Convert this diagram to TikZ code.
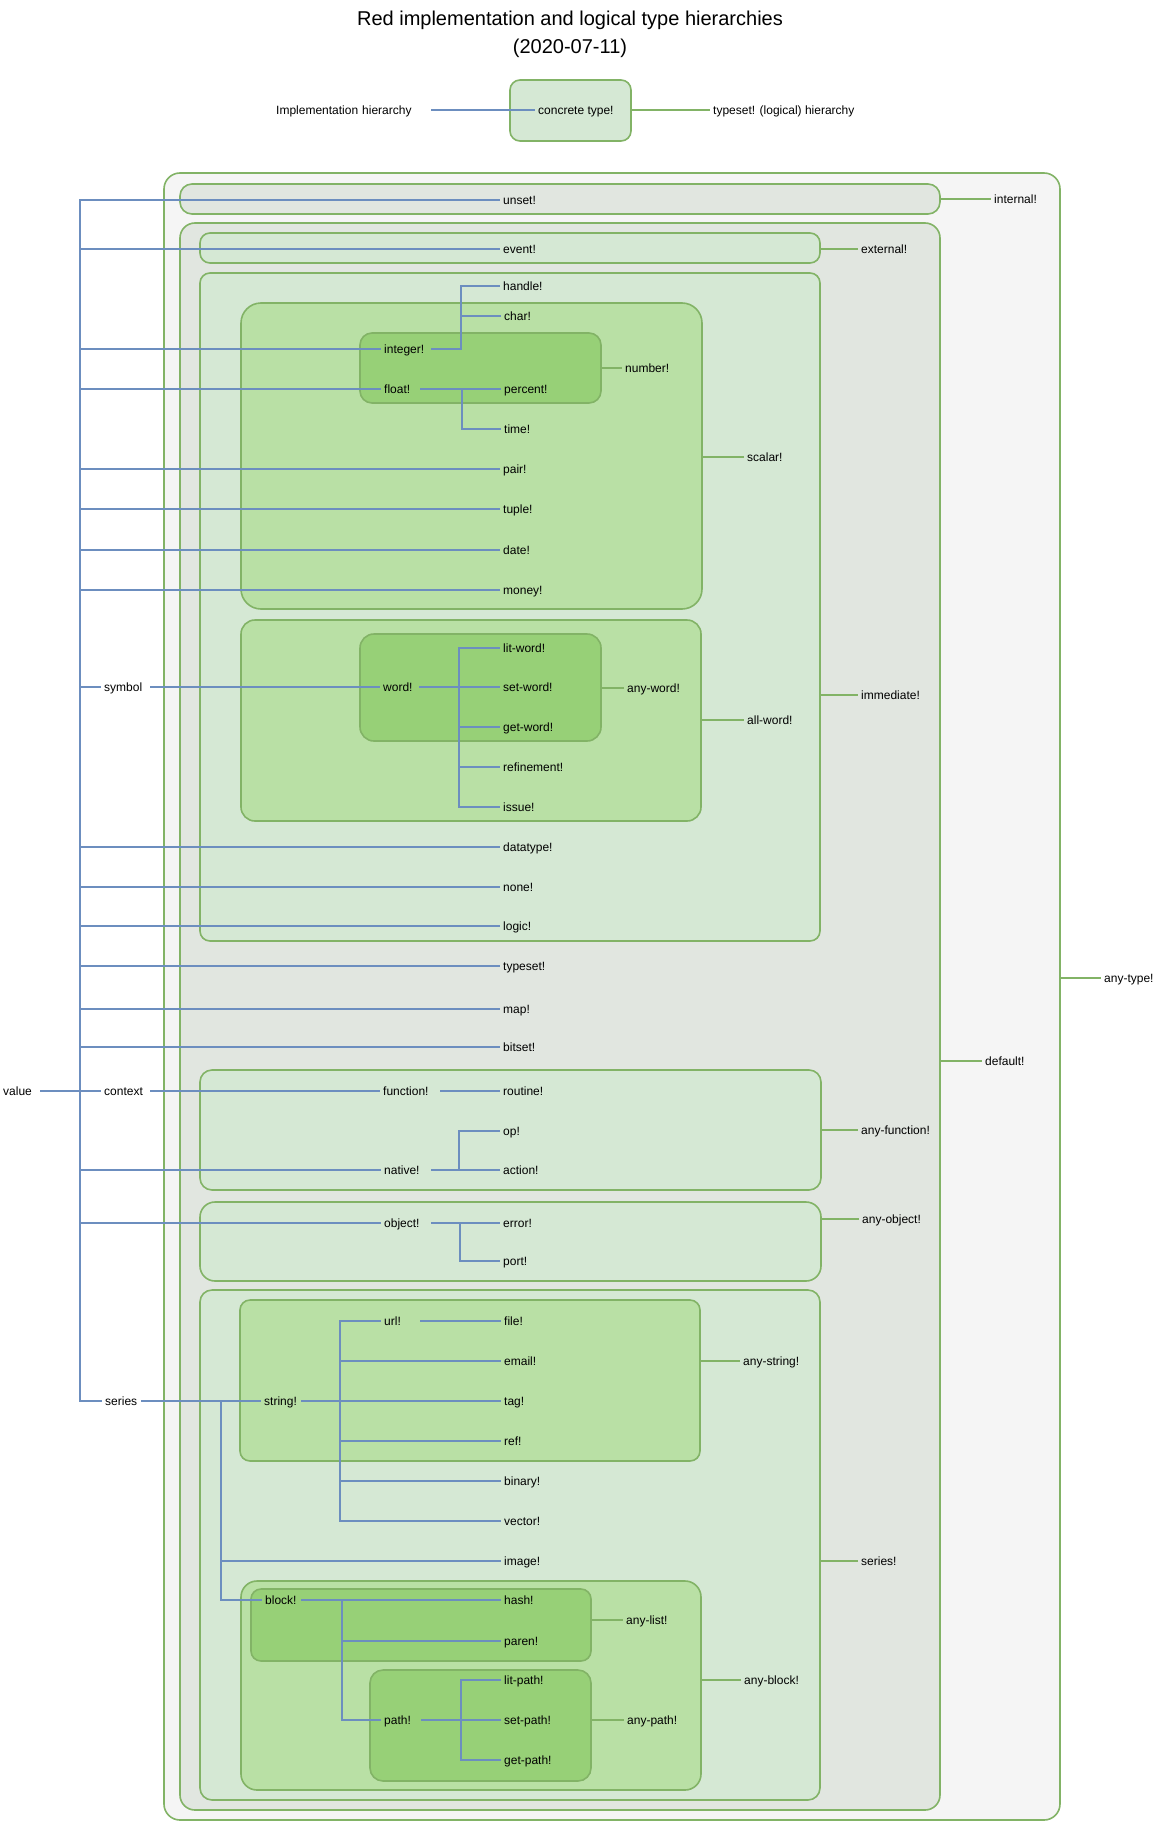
\documentclass[tikz,border=0pt]{standalone}
\usepackage{fontspec}
\setmainfont{Liberation Sans}
\hyphenpenalty=10000
\exhyphenpenalty=10000
\definecolor{implblue}{HTML}{6C8EBF}
\definecolor{logicgreen}{HTML}{82B366}
\definecolor{anyfill}{HTML}{F5F5F5}
\definecolor{grayfill}{HTML}{E1E6E0}
\definecolor{lightfill}{HTML}{D5E8D4}
\definecolor{midfill}{HTML}{B9E0A5}
\definecolor{darkfill}{HTML}{97D077}

\tikzset{
  tybox/.style={draw=logicgreen, line width=1.6pt, inner sep=0pt, rectangle},
  lab/.style={anchor=west, inner xsep=3pt, inner ysep=0pt,
    font=\fontsize{12}{14}\selectfont, text height=9pt, text depth=0pt},
  pw/.style={text width=#1, align=left},
  impl/.style={draw=implblue, line width=1.8pt},
  logi/.style={draw=logicgreen, line width=1.8pt},
}

% \typebox{name}{x1}{y1}{x2}{y2}{fill}{corner radius}
\newcommand\typebox[7]{%
  \node[tybox, fill=#6, rounded corners=#7pt,
        minimum width={#4-#2}, minimum height={#5-#3}]
    (#1) at ({(#2+#4)/2},{(#3+#5)/2}) {};}

\begin{document}
\begin{tikzpicture}[x=1pt,y=-1pt]
\useasboundingbox (0,0) rectangle (1161,1822);

% title
\node[align=center, font=\fontsize{20}{28}\selectfont] (title) at (570,34)
  {Red implementation and logical type hierarchies\\(2020-07-11)};

% legend
\typebox{ctbox}{510}{80}{631}{141}{lightfill}{10}
\node[lab, pw=152pt] (implh) at (273,110) {Implementation hierarchy};
\node[lab] (ctype) at (535,110) {concrete type!};
\node[lab] (tlegend) at (710,110) {typeset! (logical) hierarchy};
\draw[impl] (implh.east) -- (ctype.west);
\draw[logi] (ctype.west -| ctbox.east) -- (tlegend.west);

% typeset containers, outermost first
\typebox{anytypebox}{164}{173}{1060}{1820}{anyfill}{16}
\typebox{internalbox}{180}{184}{940}{214}{grayfill}{12}
\typebox{defaultbox}{180}{223}{940}{1810}{grayfill}{15}
\typebox{externalbox}{200}{233}{820}{263}{lightfill}{10}
\typebox{immediatebox}{200}{273}{820}{941}{lightfill}{10}
\typebox{scalarbox}{241}{303}{702}{609}{midfill}{20}
\typebox{numberbox}{360}{333}{601}{403}{darkfill}{12}
\typebox{allwordbox}{241}{620}{701}{821}{midfill}{14}
\typebox{anywordbox}{360}{634}{601}{741}{darkfill}{14}
\typebox{anyfunctionbox}{200}{1070}{821}{1190}{lightfill}{12}
\typebox{anyobjectbox}{200}{1202}{821}{1281}{lightfill}{15}
\typebox{seriesbox}{200}{1290}{820}{1800}{lightfill}{12}
\typebox{anystringbox}{240}{1300}{700}{1461}{midfill}{10}
\typebox{anyblockbox}{241}{1581}{701}{1790}{midfill}{16}
\typebox{anylistbox}{251}{1589}{591}{1661}{darkfill}{10}
\typebox{anypathbox}{370}{1670}{591}{1781}{darkfill}{13}

% implementation hierarchy labels
\node[lab, pw=34pt] (value) at (0,1091) {value};
\node[lab, pw=43pt] (context) at (101,1091) {context};
\node[lab, pw=43pt] (symbol) at (101,687) {symbol};
\node[lab, pw=33pt] (series) at (102,1401) {series};

\node[lab] (unset) at (500,200) {unset!};
\node[lab] (event) at (500,249) {event!};
\node[lab] (handle) at (500,286) {handle!};
\node[lab] (char) at (501,316) {char!};
\node[lab, pw=44pt] (integer) at (381,349) {integer!};
\node[lab, pw=33pt] (float) at (381,389) {float!};
\node[lab] (percent) at (501,389) {percent!};
\node[lab] (time) at (501,429) {time!};
\node[lab] (pair) at (500,469) {pair!};
\node[lab] (tuple) at (500,509) {tuple!};
\node[lab] (date) at (500,550) {date!};
\node[lab] (money) at (500,590) {money!};

\node[lab, pw=33pt] (word) at (380,687) {word!};
\node[lab] (litword) at (500,648) {lit-word!};
\node[lab] (setword) at (500,687) {set-word!};
\node[lab] (getword) at (500,727) {get-word!};
\node[lab] (refinement) at (500,767) {refinement!};
\node[lab] (issue) at (500,807) {issue!};

\node[lab] (datatype) at (500,847) {datatype!};
\node[lab] (none) at (500,887) {none!};
\node[lab] (logic) at (500,926) {logic!};
\node[lab] (typeset) at (500,966) {typeset!};
\node[lab] (map) at (500,1009) {map!};
\node[lab] (bitset) at (500,1047) {bitset!};

\node[lab, pw=54pt] (function) at (380,1091) {function!};
\node[lab] (routine) at (500,1091) {routine!};
\node[lab] (op) at (500,1131) {op!};
\node[lab, pw=44pt] (native) at (381,1170) {native!};
\node[lab] (action) at (500,1170) {action!};
\node[lab, pw=44pt] (object) at (381,1223) {object!};
\node[lab] (error) at (500,1223) {error!};
\node[lab] (port) at (500,1261) {port!};

\node[lab, pw=33pt] (url) at (381,1321) {url!};
\node[lab] (file) at (501,1321) {file!};
\node[lab, pw=34pt] (string) at (261,1401) {string!};
\node[lab] (email) at (501,1361) {email!};
\node[lab] (tag) at (501,1401) {tag!};
\node[lab] (ref) at (501,1441) {ref!};
\node[lab] (binary) at (501,1481) {binary!};
\node[lab] (vector) at (501,1521) {vector!};
\node[lab] (image) at (501,1561) {image!};
\node[lab, pw=33pt] (block) at (262,1600) {block!};
\node[lab] (hash) at (501,1600) {hash!};
\node[lab] (paren) at (501,1641) {paren!};
\node[lab, pw=34pt] (path) at (381,1720) {path!};
\node[lab] (litpath) at (501,1680) {lit-path!};
\node[lab] (setpath) at (501,1720) {set-path!};
\node[lab] (getpath) at (501,1760) {get-path!};

% typeset labels
\node[lab] (internal) at (991,199) {internal!};
\node[lab] (external) at (858,249) {external!};
\node[lab] (scalar) at (744,457) {scalar!};
\node[lab] (number) at (622,368) {number!};
\node[lab] (immediate) at (858,695) {immediate!};
\node[lab] (allword) at (744,720) {all-word!};
\node[lab] (anyword) at (624,688) {any-word!};
\node[lab] (default) at (982,1061) {default!};
\node[lab] (anytype) at (1101,978) {any-type!};
\node[lab] (anyfunction) at (858,1130) {any-function!};
\node[lab] (anyobject) at (859,1219) {any-object!};
\node[lab] (seriesl) at (858,1561) {series!};
\node[lab] (anystring) at (740,1361) {any-string!};
\node[lab] (anyblock) at (741,1680) {any-block!};
\node[lab] (anylist) at (623,1620) {any-list!};
\node[lab] (anypath) at (624,1720) {any-path!};

% branch columns of the implementation tree
\coordinate (trunk) at (80,0);
\coordinate (ib) at (461,0);
\coordinate (fb) at (462,0);
\coordinate (wb) at (459,0);
\coordinate (nb) at (459,0);
\coordinate (ob) at (460,0);
\coordinate (sb) at (221,0);
\coordinate (stb) at (340,0);
\coordinate (bb) at (342,0);
\coordinate (pb) at (461,0);

% implementation connectors
\foreach \c in {unset,event,integer,float,pair,tuple,date,money,symbol,
                datatype,none,logic,typeset,map,bitset,context,native,object,series}
  \draw[impl] (value.east) -- (value.east -| trunk) |- (\c.west);
\foreach \c in {handle,char}
  \draw[impl] (integer.east) -- (integer.east -| ib) |- (\c.west);
\foreach \c in {percent,time}
  \draw[impl] (float.east) -- (float.east -| fb) |- (\c.west);
\draw[impl] (symbol.east) -- (word.west);
\foreach \c in {litword,setword,getword,refinement,issue}
  \draw[impl] (word.east) -- (word.east -| wb) |- (\c.west);
\draw[impl] (context.east) -- (function.west);
\draw[impl] (function.east) -- (routine.west);
\foreach \c in {op,action}
  \draw[impl] (native.east) -- (native.east -| nb) |- (\c.west);
\foreach \c in {error,port}
  \draw[impl] (object.east) -- (object.east -| ob) |- (\c.west);
\foreach \c in {string,image,block}
  \draw[impl] (series.east) -- (series.east -| sb) |- (\c.west);
\foreach \c in {url,email,tag,ref,binary,vector}
  \draw[impl] (string.east) -- (string.east -| stb) |- (\c.west);
\draw[impl] (url.east) -- (file.west);
\foreach \c in {hash,paren,path}
  \draw[impl] (block.east) -- (block.east -| bb) |- (\c.west);
\foreach \c in {litpath,setpath,getpath}
  \draw[impl] (path.east) -- (path.east -| pb) |- (\c.west);

% typeset connectors
\foreach \b/\l in {internalbox/internal,externalbox/external,scalarbox/scalar,
                   numberbox/number,immediatebox/immediate,allwordbox/allword,
                   anywordbox/anyword,defaultbox/default,anytypebox/anytype,
                   anyfunctionbox/anyfunction,anyobjectbox/anyobject,
                   seriesbox/seriesl,anystringbox/anystring,anyblockbox/anyblock,
                   anylistbox/anylist,anypathbox/anypath}
  \draw[logi] (\l.west -| \b.east) -- (\l.west);

\end{tikzpicture}
\end{document}
